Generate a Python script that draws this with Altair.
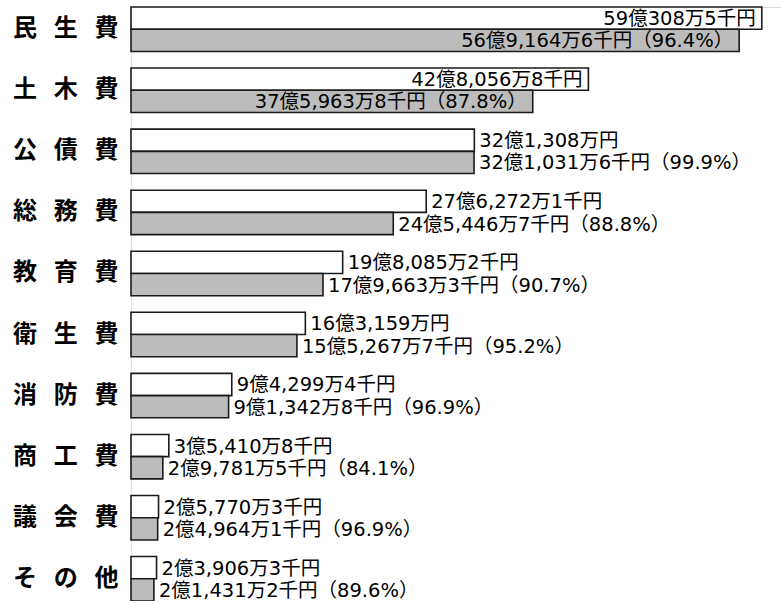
import altair as alt
import pandas as pd

categories = ["民 生 費", "土 木 費", "公 債 費", "総 務 費", "教 育 費",
              "衛 生 費", "消 防 費", "商 工 費", "議 会 費", "そ の 他"]
categories = [c.replace(" ", "\u2002\u2009") for c in categories]

# 単位: 億円
budget = [59.03085, 42.80568, 32.13080, 27.62721, 19.80852,
          16.31590, 9.42994, 3.54108, 2.57703, 2.39063]
actual = [56.91646, 37.59638, 32.10316, 24.54467, 17.96633,
          15.52677, 9.13428, 2.97815, 2.49641, 2.14312]

budget_labels = ["59億308万5千円", "42億8,056万8千円", "32億1,308万円",
                 "27億6,272万1千円", "19億8,085万2千円", "16億3,159万円",
                 "9億4,299万4千円", "3億5,410万8千円", "2億5,770万3千円",
                 "2億3,906万3千円"]
actual_labels = ["56億9,164万6千円（96.4%）", "37億5,963万8千円（87.8%）",
                 "32億1,031万6千円（99.9%）", "24億5,446万7千円（88.8%）",
                 "17億9,663万3千円（90.7%）", "15億5,267万7千円（95.2%）",
                 "9億1,342万8千円（96.9%）", "2億9,781万5千円（84.1%）",
                 "2億4,964万1千円（96.9%）", "2億1,431万2千円（89.6%）"]
inside_rows = [True, True, False, False, False, False, False, False, False, False]

series = ["予算", "決算"]

rows = []
for i, c in enumerate(categories):
    rows.append({"category": c, "series": series[0], "value": budget[i],
                 "label": budget_labels[i], "inside": inside_rows[i]})
    rows.append({"category": c, "series": series[1], "value": actual[i],
                 "label": actual_labels[i], "inside": inside_rows[i]})
df = pd.DataFrame(rows)

FONT = "Noto Sans CJK JP"
VFONT = "DejaVu Sans, Noto Sans CJK JP"

base = alt.Chart(df).encode(
    y=alt.Y("category:N", sort=categories,
            scale=alt.Scale(paddingInner=0.272, paddingOuter=0),
            axis=alt.Axis(title=None, domain=False, ticks=False,
                          labelFont=FONT, labelFontWeight="bold",
                          labelFontSize=24, labelPadding=13,
                          labelColor="black", labelLimit=0)),
    yOffset=alt.YOffset("series:N", sort=series,
                        scale=alt.Scale(paddingInner=0, paddingOuter=0)),
    x=alt.X("value:Q", scale=alt.Scale(domain=[0, 60.83], nice=False, zero=True),
            axis=None),
)

bars = base.mark_bar(stroke="#1a1a1a", strokeWidth=1.6).encode(
    fill=alt.Fill("series:N", scale=alt.Scale(domain=series,
                                               range=["#ffffff", "#bcbcbc"]),
                  legend=None)
)

text_in = base.transform_filter("datum.inside").mark_text(
    align="right", baseline="middle", dx=-6, dy=1, font=VFONT, fontSize=19.5,
    color="black").encode(text="label:N")

text_out = base.transform_filter("!datum.inside").mark_text(
    align="left", baseline="middle", dx=5, dy=1, font=VFONT, fontSize=19.5,
    color="black").encode(text="label:N")

chart = alt.layer(bars, text_in, text_out).properties(
    width=650, height=594,
    padding={"left": 131, "top": 7, "right": 0, "bottom": 0},
    autosize=alt.AutoSizeParams(type="none"),
).configure_view(stroke=None).configure(background="white")

chart.save("out.html", embed_options={"renderer": "svg", "actions": False})
